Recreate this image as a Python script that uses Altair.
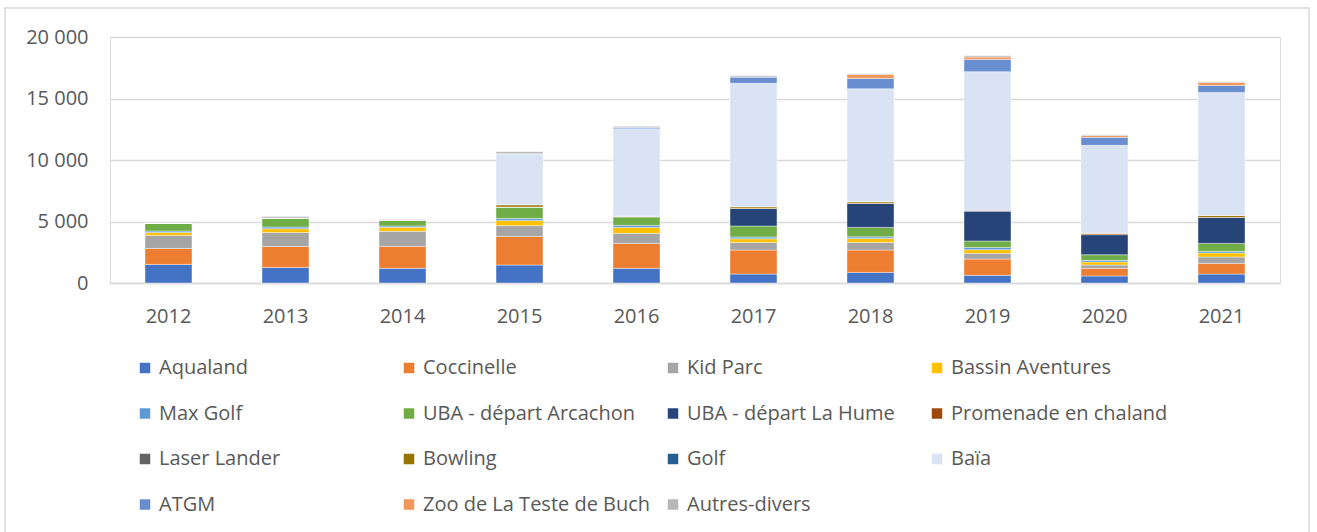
import altair as alt
import pandas as pd

years = ["2012", "2013", "2014", "2015", "2016", "2017", "2018", "2019", "2020", "2021"]

series_names = [
    "Aqualand", "Coccinelle", "Kid Parc", "Bassin Aventures",
    "Max Golf", "UBA - départ Arcachon", "UBA - départ La Hume", "Promenade en chaland",
    "Laser Lander", "Bowling", "Golf", "Baïa",
    "ATGM", "Zoo de La Teste de Buch", "Autres-divers",
]

colors = [
    "#4472C4", "#ED7D31", "#A5A5A5", "#FFC000",
    "#5B9BD5", "#70AD47", "#264478", "#9E480E",
    "#636363", "#997300", "#255E91", "#DAE3F3",
    "#698ED0", "#F1975A", "#B7B7B7",
]

aqualand = [1510, 1270, 1190, 1465, 1190, 730, 860, 620, 570, 730]
coccinelle = [1300, 1700, 1790, 2325, 2030, 1950, 1820, 1330, 620, 865]
kid_parc = [1060, 1140, 1220, 870, 815, 620, 620, 460, 275, 520]
bassin_aventures = [240, 300, 325, 430, 485, 300, 325, 300, 245, 325]
max_golf = [120, 140, 115, 160, 165, 140, 130, 185, 130, 130]
uba_arcachon = [650, 730, 455, 930, 705, 895, 765, 520, 460, 650]
uba_la_hume = [0, 0, 0, 0, 0, 1430, 1950, 2440, 1630, 2115]
promenade = [0, 0, 0, 0, 0, 0, 0, 0, 135, 0]
laser_lander = [0, 0, 0, 0, 50, 0, 0, 80, 0, 0]
bowling = [0, 0, 0, 185, 0, 140, 140, 0, 0, 160]
golf = [0, 0, 0, 0, 0, 0, 0, 0, 0, 0]
baia = [0, 0, 0, 4145, 7110, 10025, 9185, 11245, 7125, 10000]
atgm = [0, 0, 0, 0, 120, 520, 840, 1000, 650, 570]
zoo = [0, 0, 0, 0, 0, 0, 325, 195, 160, 245]
autres = [50, 130, 60, 165, 80, 100, 55, 105, 60, 55]

all_series = [aqualand, coccinelle, kid_parc, bassin_aventures, max_golf, uba_arcachon,
              uba_la_hume, promenade, laser_lander, bowling, golf, baia, atgm, zoo, autres]

rows = []
for si, (name, vals) in enumerate(zip(series_names, all_series)):
    for yr, v in zip(years, vals):
        rows.append({"Année": yr, "Série": name, "Valeur": v, "ordre": si})
df = pd.DataFrame(rows)

FONT = "Open Sans"
GREY_TXT = "#595959"
GRID = "#D9D9D9"

bars = alt.Chart(df).mark_bar(size=47, stroke="white", strokeWidth=0.6, strokeOpacity=0.7).encode(
    x=alt.X("Année:N", sort=years, title=None,
            scale=alt.Scale(paddingInner=0.0, paddingOuter=0.0),
            axis=alt.Axis(labelAngle=0, labelFontSize=20, labelColor=GREY_TXT, labelFont=FONT,
                          ticks=False, domain=True, domainColor=GRID, domainWidth=1.5,
                          labelPadding=23, grid=False)),
    y=alt.Y("Valeur:Q", stack="zero", title=None,
            scale=alt.Scale(domain=[0, 20000], nice=False),
            axis=alt.Axis(values=[0, 5000, 10000, 15000, 20000],
                          labelExpr="replace(format(datum.value, ','), ',', ' ')",
                          labelFontSize=20, labelColor=GREY_TXT, labelFont=FONT,
                          ticks=False, domain=False, grid=True, gridColor=GRID, gridWidth=1.5,
                          labelPadding=22)),
    color=alt.Color("Série:N", sort=series_names,
                    scale=alt.Scale(domain=series_names, range=colors),
                    legend=alt.Legend(title=None, orient="none", legendX=25, legendY=321,
                                      columns=4, direction="horizontal", gridAlign="all",
                                      columnPadding=12, rowPadding=25.5,
                                      symbolType="square", symbolSize=110, symbolStrokeWidth=0,
                                      symbolOffset=0,
                                      labelFontSize=20, labelFont=FONT, labelColor=GREY_TXT,
                                      labelOffset=4, labelLimit=400)),
    order=alt.Order("ordre:Q", sort="ascending"),
)

frame = alt.Chart(pd.DataFrame({"k": [0]})).mark_rect(
    fill=None, stroke=GRID, strokeWidth=1.5
).encode(
    x=alt.value(-105), x2=alt.value(1199), y=alt.value(-29), y2=alt.value(510)
)

chart = alt.layer(frame, bars).properties(
    width=1170, height=246,
    autosize=alt.AutoSizeParams(type="none"),
    padding={"left": 110, "top": 37, "right": 37, "bottom": 249},
).configure_view(stroke=None).configure(background="white")

chart.save("out.html", embed_options={"renderer": "svg", "actions": False})
